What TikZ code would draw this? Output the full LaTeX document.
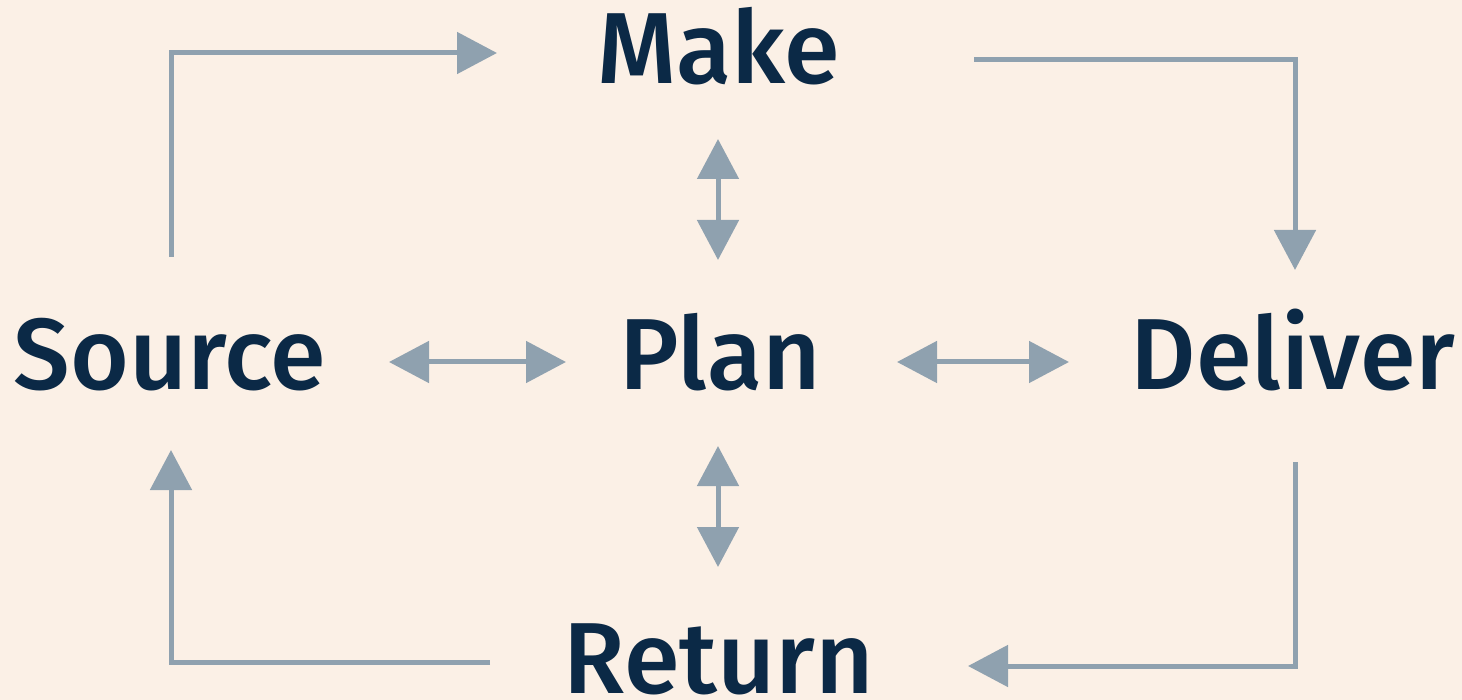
\documentclass[tikz,border=0pt]{standalone}
\usepackage{fontspec}
\setmainfont{Fira Sans}[UprightFont={* Medium}, BoldFont={* SemiBold}]
\usetikzlibrary{arrows.meta}
\definecolor{bg}{HTML}{FBF0E6}
\definecolor{ink}{HTML}{0B2946}
\definecolor{arr}{HTML}{8FA1AF}
\tikzset{
  lbl/.style={anchor=base, text=ink, inner sep=0pt, font=\fontsize{101}{105}\selectfont},
  conn/.style={draw=arr, line width=5pt, -{Triangle[length=40pt,width=41pt]}},
  dconn/.style={draw=arr, line width=5pt, {Triangle[length=40pt,width=41pt]}-{Triangle[length=40pt,width=41pt]}}
}
\begin{document}
\begin{tikzpicture}[x=1pt,y=-1pt]
\fill[bg] (0,0) rectangle (1462,700);
\useasboundingbox (0,0) rectangle (1462,700);
\node[lbl] (make) at (719,84) {Make};
\node[lbl] (plan) at (720,390) {Plan};
\node[lbl] (source) at (170,390) {Source};
\node[lbl] (deliver) at (1293,390) {Deliver};
\node[lbl] (return) at (719,693) {Return};
% endpoints
\coordinate (s1) at (171,257);
\coordinate (m1) at (497,53);
\coordinate (m2) at (974,60);
\coordinate (d1) at (1295,270);
\coordinate (d2) at (1295,462);
\coordinate (r1) at (968,666);
\coordinate (r2) at (490,662);
\coordinate (s2) at (171,450);
\draw[conn] (s1) |- (m1);
\draw[conn] (m2) -| (d1);
\draw[conn] (d2) |- (r1);
\draw[conn] (r2) -| (s2);
% double arrows
\coordinate (pl) at (389,362);
\coordinate (pr) at (566,362);
\coordinate (ql) at (897,362);
\coordinate (qr) at (1069,362);
\coordinate (ut) at (718,139);
\coordinate (ub) at (718,260);
\coordinate (lt) at (718,446);
\coordinate (lb) at (718,567);
\draw[dconn] (pl) -- (pr);
\draw[dconn] (ql) -- (qr);
\draw[dconn] (ut) -- (ub);
\draw[dconn] (lt) -- (lb);
\end{tikzpicture}
\end{document}
